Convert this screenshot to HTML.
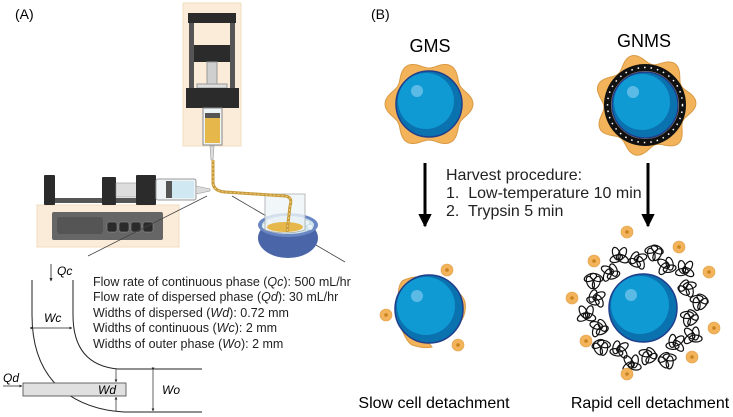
<!DOCTYPE html>
<html><head><meta charset="utf-8"><style>
html,body{margin:0;padding:0;background:#fff;}
svg{display:block;font-family:"Liberation Sans",Arial,sans-serif;}
</style></head><body>
<svg id="s" width="733" height="417" viewBox="0 0 733 417" xmlns="http://www.w3.org/2000/svg">
<defs>
<marker id="ah" viewBox="0 0 10 10" refX="9" refY="5" markerWidth="4.5" markerHeight="4.5" orient="auto"><path d="M0,0L10,5L0,10z" fill="#000"/></marker>
<marker id="ahs" viewBox="0 0 10 10" refX="9" refY="5" markerWidth="4" markerHeight="4" orient="auto"><path d="M0,0L10,5L0,10z" fill="#222"/></marker>
</defs>
<text x="15" y="19" font-size="14">(A)</text>
<text x="371" y="19" font-size="14">(B)</text>

<!-- vertical pump -->
<rect x="183" y="3" width="58" height="143" fill="#fbecd9" stroke="#f0dcc0"/>
<rect x="188" y="13" width="48" height="10" fill="#2b2b2b"/>
<rect x="189" y="23" width="5" height="67" fill="#555"/>
<rect x="230" y="23" width="5" height="67" fill="#555"/>
<rect x="194" y="45" width="36" height="17" fill="#2b2b2b"/>
<rect x="207" y="62" width="10" height="22" fill="#cfcfcf" stroke="#999"/>
<rect x="197" y="84" width="30" height="4" fill="#ddd" stroke="#999"/>
<rect x="186" y="88" width="53" height="20" fill="#2b2b2b"/>
<rect x="203" y="108" width="19" height="37" fill="#eef3f6" stroke="#888"/>
<rect x="205" y="113" width="15" height="5" fill="#555"/>
<rect x="205" y="118" width="15" height="25" fill="#e6b74a"/>
<path d="M210,146h4l-1,14h-2z" fill="#ddd" stroke="#999" stroke-width="0.6"/>

<!-- horizontal pump -->
<rect x="37" y="205" width="142" height="42" fill="#fbecd9" stroke="#f0dcc0"/>
<rect x="52" y="212" width="111" height="28" rx="2" fill="#666"/>
<rect x="57" y="217" width="46" height="17" rx="3" fill="#555"/>
<rect x="107" y="222" width="10" height="10" rx="2" fill="#2b2b2b" stroke="#999" stroke-width="0.5"/>
<rect x="119" y="222" width="10" height="10" rx="2" fill="#2b2b2b" stroke="#999" stroke-width="0.5"/>
<rect x="131" y="222" width="10" height="10" rx="2" fill="#2b2b2b" stroke="#999" stroke-width="0.5"/>
<rect x="143" y="222" width="10" height="10" rx="2" fill="#2b2b2b" stroke="#999" stroke-width="0.5"/>
<rect x="55" y="198" width="82" height="5" fill="#555"/>
<rect x="44" y="175" width="11" height="30" rx="1" fill="#2b2b2b"/>
<rect x="102" y="177" width="14" height="28" rx="1" fill="#2b2b2b"/>
<rect x="116" y="183" width="22" height="14" fill="#ddd" stroke="#999" stroke-width="0.6"/>
<rect x="136" y="175" width="20" height="30" rx="1" fill="#2b2b2b"/>
<rect x="156" y="179" width="40" height="21" rx="2" fill="#eef3f6" stroke="#999"/>
<rect x="166" y="181" width="6" height="17" fill="#555"/>
<rect x="172" y="181" width="22" height="17" fill="#cfe8f2"/>
<path d="M196,186l14,3v2l-14,3z" fill="#ddd" stroke="#999" stroke-width="0.6"/>

<!-- lines -->
<line x1="207" y1="196" x2="88" y2="256" stroke="#444" stroke-width="0.8"/>
<line x1="232" y1="196" x2="345" y2="262" stroke="#444" stroke-width="0.8"/>

<!-- bowl & beaker -->
<ellipse cx="288" cy="238" rx="30" ry="20" fill="#4a66a8"/>
<ellipse cx="288" cy="225" rx="30" ry="12" fill="#6a87c4"/>
<ellipse cx="288" cy="225" rx="26" ry="9" fill="#cfe6ee"/>
<g fill="#e8f4f7" stroke="#a9cbd6" stroke-width="0.5">
<circle cx="270" cy="222" r="3"/><circle cx="277" cy="228" r="3"/><circle cx="284" cy="231" r="3"/><circle cx="292" cy="230" r="3"/><circle cx="300" cy="228" r="3"/><circle cx="307" cy="223" r="3"/><circle cx="265" cy="226" r="3"/><circle cx="310" cy="227" r="3"/></g>
<path d="M265,194h40v36q-20,6 -40,0z" fill="#eef5f8" fill-opacity="0.8" stroke="#aaa" stroke-width="0.8"/>
<ellipse cx="285" cy="227" rx="18" ry="5" fill="#e6b74a"/>
<path d="M213,160v22q0,9 12,10l60,4q8,1 5,10l-3,26" fill="none" stroke="#c79a3a" stroke-width="3"/>
<path d="M213,160v22q0,9 12,10l60,4q8,1 5,10l-3,26" fill="none" stroke="#f0d080" stroke-width="1" stroke-dasharray="2 2"/>

<!-- channel diagram -->
<line x1="51" y1="264" x2="51" y2="281" stroke="#222" stroke-width="0.8" marker-end="url(#ahs)"/>
<text x="57" y="275" font-size="12" font-style="italic">Qc</text>
<path d="M32,280v35q0,50 30,75q25,20 62,22h78" fill="none" stroke="#222" stroke-width="1"/>
<path d="M73,280v35q0,50 45,54h84" fill="none" stroke="#222" stroke-width="1"/>
<line x1="33" y1="328" x2="72" y2="328" stroke="#222" stroke-width="0.7" marker-start="url(#ahs)" marker-end="url(#ahs)"/>
<text x="44" y="322" font-size="12" font-style="italic">Wc</text>
<rect x="23" y="383" width="103" height="13" fill="#e0e0e0" stroke="#444" stroke-width="0.8"/>
<text x="3" y="382" font-size="12" font-style="italic">Qd</text>
<line x1="3" y1="386" x2="22" y2="386" stroke="#222" stroke-width="0.7" marker-end="url(#ahs)"/>
<text x="98" y="394" font-size="12" font-style="italic">Wd</text>
<line x1="116" y1="369" x2="116" y2="382" stroke="#222" stroke-width="0.7" marker-end="url(#ahs)"/>
<line x1="116" y1="411" x2="116" y2="397" stroke="#222" stroke-width="0.7" marker-end="url(#ahs)"/>
<line x1="153" y1="370" x2="153" y2="411" stroke="#222" stroke-width="0.7" marker-start="url(#ahs)" marker-end="url(#ahs)"/>
<text x="162" y="394" font-size="12" font-style="italic">Wo</text>
<g font-size="12.5" fill="#222">
<text x="93" y="286">Flow rate of continuous phase (<tspan font-style="italic">Qc</tspan>): 500 mL/hr</text>
<text x="93" y="301">Flow rate of dispersed phase (<tspan font-style="italic">Qd</tspan>): 30 mL/hr</text>
<text x="93" y="317">Widths of dispersed (<tspan font-style="italic">Wd</tspan>): 0.72 mm</text>
<text x="93" y="332">Widths of continuous (<tspan font-style="italic">Wc</tspan>): 2 mm</text>
<text x="93" y="348">Widths of outer phase (<tspan font-style="italic">Wo</tspan>): 2 mm</text>
</g>

<!-- B -->
<text x="430" y="52" font-size="18" text-anchor="middle">GMS</text>
<text x="644" y="47" font-size="18" text-anchor="middle">GNMS</text>
<g id="cells"></g>
<line x1="425" y1="163" x2="425" y2="226" stroke="#000" stroke-width="3" marker-end="url(#ah)"/>
<line x1="648" y1="163" x2="648" y2="226" stroke="#000" stroke-width="3" marker-end="url(#ah)"/>
<g font-size="16" fill="#222">
<text x="446" y="180">Harvest procedure:</text>
<text x="446" y="198" xml:space="preserve">1.  Low-temperature 10 min</text>
<text x="446" y="216" xml:space="preserve">2.  Trypsin 5 min</text>
</g>
<text x="434" y="408" font-size="16" text-anchor="middle">Slow cell detachment</text>
<text x="650" y="408" font-size="16" text-anchor="middle">Rapid cell detachment</text>
</svg>
<script>
var g=document.getElementById('cells'),h='';
function wav(cx,cy,r,a,n,ph){var d='';for(var i=0;i<=120;i++){var t=i/120*2*Math.PI;var rr=r+a*Math.cos(n*t+ph);d+=(i?'L':'M')+(cx+rr*Math.cos(t)).toFixed(1)+','+(cy+rr*Math.sin(t)).toFixed(1);}return d+'Z';}
function sphere(cx,cy,r){return '<circle cx="'+cx+'" cy="'+cy+'" r="'+r+'" fill="#0b72b0" stroke="#1f3f8c" stroke-width="1.5"/><circle cx="'+(cx-3)+'" cy="'+(cy-3)+'" r="'+(r-5)+'" fill="#109ad4"/><circle cx="'+(cx-12)+'" cy="'+(cy-13)+'" r="6" fill="#5bbbe6"/>';}
function cell(x,y){return '<circle cx="'+x+'" cy="'+y+'" r="6" fill="#f2b35a" stroke="#e0a04a" stroke-width="0.6"/><circle cx="'+x+'" cy="'+y+'" r="1.8" fill="#c98220"/>';}
h+='<path d="'+wav(429,104,40,4,6,0)+'" fill="#f2b35a" stroke="#d99a45"/>';
h+=sphere(429,104,33);
h+='<path d="'+wav(645,105,46,5,7,0.3)+'" fill="#f2b35a" stroke="#d99a45"/>';
h+='<circle cx="645" cy="105" r="37.5" fill="none" stroke="#111" stroke-width="7"/>';
h+='<circle cx="645" cy="105" r="37.5" fill="none" stroke="#fff" stroke-width="1.5" stroke-dasharray="1.5 5"/>';
h+=sphere(645,105,33);
// slow: three flattened cells
h+='<path d="M398,300q0,-18 6,-20q10,-4 20,-3l-10,25z" fill="#f2b35a" stroke="#d99a45"/>';
h+='<path d="M455,290q8,5 10,12q2,12 -6,22l-8,-15z" fill="#f2b35a" stroke="#d99a45"/>';
h+='<path d="M402,330q5,12 10,15q12,4 20,2l-15,-18z" fill="#f2b35a" stroke="#d99a45"/>';
h+=sphere(429,309,34);
h+=cell(447,270)+cell(386,315)+cell(458,345);
for(var i=0;i<20;i++){var t=i/20*2*Math.PI+0.2;var R=48+(i%2)*9;var x=643+R*Math.cos(t),y=308+R*Math.sin(t);
for(var k=0;k<4;k++){var a=(i*47+k*45)%180;var ex=x+((k%2)*2-1)*3,ey=y+((k>>1)*2-1)*2.5;h+='<ellipse cx="'+ex.toFixed(1)+'" cy="'+ey.toFixed(1)+'" rx="6.5" ry="3.5" transform="rotate('+a+' '+ex.toFixed(1)+' '+ey.toFixed(1)+')" fill="none" stroke="#111" stroke-width="1.2"/>';}}
h+=sphere(643,308,34);
var pts=[[627,232],[679,247],[594,261],[709,272],[572,298],[714,328],[586,341],[692,357],[627,374]];
for(var j=0;j<pts.length;j++)h+=cell(pts[j][0],pts[j][1]);
g.innerHTML=h;
</script>
</body></html>
